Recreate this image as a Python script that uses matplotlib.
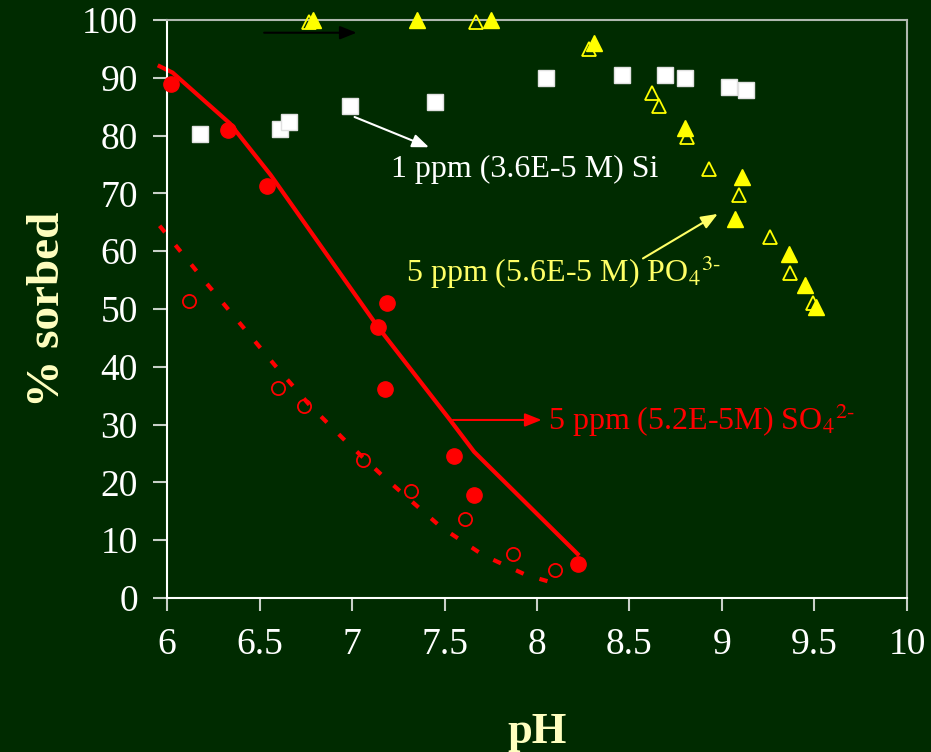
import matplotlib
matplotlib.use('Agg')
import matplotlib.pyplot as plt

# Si (white squares)
si_ph = [6.18, 6.61, 6.66, 6.99, 7.45, 8.05, 8.46, 8.69, 8.80, 9.04, 9.13]
si_sorbed = [80.3, 81.1, 82.4, 85.1, 85.8, 90.0, 90.5, 90.5, 90.0, 88.4, 87.9]

# PO4 filled / open triangles
po4_ph = [6.79, 7.35, 7.75, 8.31, 8.80, 9.11, 9.07, 9.36, 9.45, 9.51]
po4_sorbed = [100, 100, 100, 96.1, 81.4, 72.9, 65.6, 59.5, 54.2, 50.4]
po4_open_ph = [6.77, 7.67, 8.28, 8.62, 8.66, 8.81, 8.93, 9.09, 9.26, 9.37, 9.49]
po4_open_sorbed = [99.6, 99.6, 94.9, 87.4, 85.1, 79.8, 74.3, 69.7, 62.4, 56.3, 51.0]

# SO4 filled / open circles
so4_ph = [6.02, 6.33, 6.54, 7.14, 7.19, 7.18, 7.55, 7.66, 8.22]
so4_sorbed = [88.9, 81.0, 71.3, 46.8, 51.0, 36.2, 24.6, 17.9, 5.8]
so4_open_ph = [6.12, 6.60, 6.74, 7.06, 7.32, 7.61, 7.87, 8.10]
so4_open_sorbed = [51.3, 36.4, 33.3, 23.8, 18.5, 13.6, 7.6, 4.9]

# model curves
fit_ph = [5.96, 6.03, 6.34, 6.56, 7.14, 7.53, 7.66, 8.22]
fit_sorbed = [92.0, 90.9, 82.1, 73.2, 46.9, 30.8, 25.3, 7.6]
fit2_ph = [5.96, 6.22, 6.59, 6.77, 6.97, 7.17, 7.48, 7.71, 7.94, 8.10]
fit2_sorbed = [64.4, 54.2, 40.0, 33.4, 27.0, 21.0, 12.3, 7.4, 4.0, 2.5]

x_ticks = [6, 6.5, 7, 7.5, 8, 8.5, 9, 9.5, 10]
x_tick_labels = ['6', '6.5', '7', '7.5', '8', '8.5', '9', '9.5', '10']
y_ticks = list(range(0, 101, 10))

BG = '#002b00'
SERIF = 'Liberation Serif'

plt.rcParams['font.family'] = SERIF
plt.rcParams['mathtext.fontset'] = 'stix'

fig = plt.figure(figsize=(9.31, 7.52), dpi=100, facecolor=BG)
ax = fig.add_axes([0.1794, 0.2048, 0.7948, 0.7686], facecolor=BG)

ax.plot(fit_ph, fit_sorbed, color='red', lw=3, clip_on=False, zorder=2)
ax.plot(fit2_ph, fit2_sorbed, color='red', lw=3, linestyle=(0, (2, 4)),
        clip_on=False, zorder=2)

ax.plot(si_ph, si_sorbed, 's', color='white', ms=11, mec='#e0e0e0',
        clip_on=False, zorder=3)
ax.plot(po4_open_ph, po4_open_sorbed, '^', mfc='none', mec='yellow', mew=1.3,
        ms=10, clip_on=False, zorder=3)
ax.plot(po4_ph, po4_sorbed, '^', color='yellow', ms=11.5, clip_on=False, zorder=4)
ax.plot(so4_ph, so4_sorbed, 'o', color='red', ms=11, clip_on=False, zorder=4)
ax.plot(so4_open_ph, so4_open_sorbed, 'o', mfc='none', mec='red', mew=1.3,
        ms=9.5, clip_on=False, zorder=3)

# arrows and labels
head = '-|>,head_length=1.0,head_width=0.4'
ax.annotate('', xy=(7.04, 97.8), xytext=(6.51, 97.8),
            arrowprops=dict(arrowstyle=head, color='black', lw=1.5))
ax.annotate('', xy=(7.43, 77.8), xytext=(7.0, 83.4),
            arrowprops=dict(arrowstyle=head, color='white', lw=1.5))
ax.annotate('', xy=(8.99, 66.7), xytext=(8.56, 58.5),
            arrowprops=dict(arrowstyle=head, color='#ffff66', lw=1.5))
ax.annotate('', xy=(8.04, 30.8), xytext=(7.53, 30.8),
            arrowprops=dict(arrowstyle=head, color='red', lw=1.5))

ax.text(7.21, 74.2, '1 ppm (3.6E-5 M) Si', color='white', fontsize=23,
        va='center', ha='left')
ax.text(7.29, 56.4, '5 ppm (5.6E-5 M) PO$_4{}^{3\\text{-}}$', color='#ffff66',
        fontsize=23, va='center', ha='left')
ax.text(8.06, 30.8, '5 ppm (5.2E-5M) SO$_4{}^{2\\text{-}}$', color='red',
        fontsize=23, va='center', ha='left')

ax.set_xlim(6, 10)
ax.set_ylim(0, 100)
ax.set_xticks(x_ticks)
ax.set_xticklabels(x_tick_labels)
ax.set_yticks(y_ticks)

for side in ['left', 'bottom']:
    ax.spines[side].set_color('white')
    ax.spines[side].set_linewidth(1.5)
for side in ['top', 'right']:
    ax.spines[side].set_color('#b0b8b0')
    ax.spines[side].set_linewidth(1.5)

ax.tick_params(axis='both', direction='out', colors='#c8d0c8', width=1.5,
               labelcolor='white', labelsize=27)
ax.tick_params(axis='y', length=10, pad=11)
ax.tick_params(axis='x', length=9, pad=12)

ax.set_xlabel('pH', color='#ffffc0', fontsize=32, fontweight='bold', labelpad=36)
ax.set_ylabel('% sorbed', color='#ffffc0', fontsize=34, fontweight='bold',
              labelpad=9)

fig.savefig('out.png', dpi=100, facecolor=BG)
